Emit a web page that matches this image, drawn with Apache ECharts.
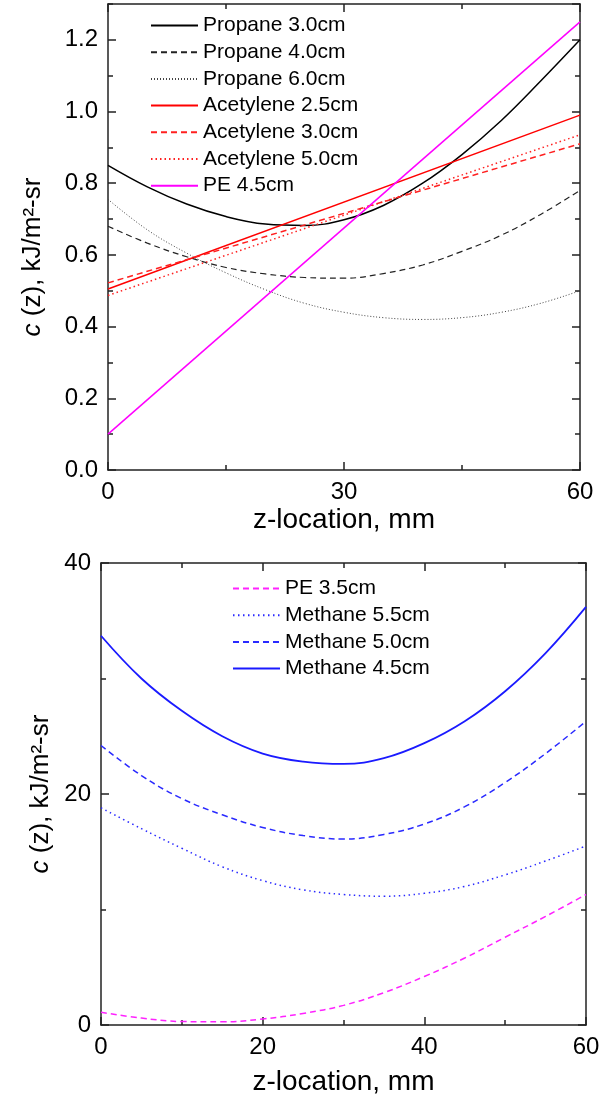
<!DOCTYPE html>
<html>
<head>
<meta charset="utf-8">
<script src="https://cdn.jsdelivr.net/npm/echarts@6/dist/echarts.min.js"></script>
<style>
html,body{margin:0;padding:0;background:#fff;}
#chart{width:603px;height:1097px;}
</style>
</head>
<body>
<div id="chart"></div>
<script>
// ---- data ----
const zCurve = [0, 5, 10, 15, 20, 25, 30, 35, 40, 45, 50, 55, 60];
const zLine = [0, 60];

// top panel
const propane30 = [0.85, 0.79, 0.742, 0.707, 0.686, 0.682, 0.698, 0.738, 0.80, 0.88, 0.975, 1.085, 1.20];
const propane40 = [0.68, 0.633, 0.595, 0.565, 0.547, 0.537, 0.535, 0.548, 0.572, 0.61, 0.655, 0.713, 0.78];
const propane60 = [0.755, 0.67, 0.605, 0.55, 0.503, 0.465, 0.44, 0.425, 0.42, 0.425, 0.44, 0.465, 0.50];
const acetylene25 = [0.505, 0.99];
const acetylene30 = [0.522, 0.91];
const acetylene50 = [0.487, 0.935];
const pe45 = [0.10, 1.25];

// bottom panel
const pe35 = [1.1, 0.6, 0.3, 0.28, 0.52, 1.0, 1.7, 2.8, 4.2, 5.8, 7.6, 9.4, 11.3];
const methane55 = [18.8, 17.0, 15.3, 13.7, 12.5, 11.7, 11.3, 11.15, 11.4, 12.0, 13.0, 14.2, 15.5];
const methane50 = [24.2, 21.6, 19.6, 18.2, 17.1, 16.4, 16.1, 16.5, 17.4, 18.9, 21.0, 23.5, 26.3];
const methane45 = [33.7, 30.0, 27.2, 25.0, 23.5, 22.8, 22.6, 23.1, 24.4, 26.3, 28.9, 32.2, 36.2];

function pairs(xs, ys) { return xs.map((x, i) => [x, ys[i]]); }

const FONT = 'Liberation Sans, Arial, sans-serif';
const AX = '#222';

function xAx(grid, pos, min, max, interval, labels, name, nameGap) {
  return {
    type: 'value', gridIndex: grid, position: pos, min: min, max: max, interval: interval,
    axisLine: { show: true, onZero: false, lineStyle: { color: AX, width: 1.5 } },
    axisTick: { show: true, inside: true, length: 8, lineStyle: { color: AX, width: 1.5 } },
    minorTick: { show: true, splitNumber: 2, length: 5, lineStyle: { color: AX, width: 1.5 } },
    splitLine: { show: false }, minorSplitLine: { show: false },
    axisLabel: { show: labels, color: '#000', fontSize: 24, fontFamily: FONT, margin: 10 },
    name: name || '', nameLocation: 'middle', nameGap: nameGap || 0,
    nameTextStyle: { color: '#000', fontSize: 28, fontFamily: FONT }
  };
}
function yAx(grid, pos, min, max, interval, opts) {
  const o = Object.assign({ labels: false, tickLen: 8, minor: true, line: true, name: '', nameGap: 0, namePad: 0 }, opts || {});
  return {
    type: 'value', gridIndex: grid, position: pos, min: min, max: max, interval: interval,
    axisLine: { show: o.line, onZero: false, lineStyle: { color: AX, width: 1.5 } },
    axisTick: { show: true, inside: true, length: o.tickLen, lineStyle: { color: AX, width: 1.5 } },
    minorTick: { show: o.minor, splitNumber: 2, length: 5, lineStyle: { color: AX, width: 1.5 } },
    splitLine: { show: false }, minorSplitLine: { show: false },
    axisLabel: { show: o.labels, color: '#000', fontSize: 24, fontFamily: FONT, margin: 10,
      formatter: o.fmt, showMaxLabel: o.showMax !== false },
    name: o.name, nameLocation: 'middle', nameRotate: 90, nameGap: o.nameGap,
    nameTextStyle: { color: '#000', fontSize: 26, fontFamily: FONT, padding: [0, o.namePad, 0, 0],
      rich: { it: { fontStyle: 'italic', fontSize: 26, fontFamily: FONT, color: '#000' } } }
  };
}

const yName = '{it|c} (z), kJ/m²-sr';

function ser(name, xi, yi, data, color, type, width, smooth) {
  return {
    name: name, type: 'line', xAxisIndex: xi, yAxisIndex: yi, data: data,
    symbol: 'none', smooth: smooth ? 0.4 : false, silent: true, animation: false,
    lineStyle: { color: color, width: width, type: type }, itemStyle: { color: color }
  };
}

const legendCommon = {
  orient: 'vertical', itemWidth: 47, itemHeight: 12, selectedMode: false, padding: 0,
  itemStyle: { opacity: 0 },
  textStyle: { color: '#000', fontSize: 21, fontFamily: FONT, lineHeight: 20 }
};

const option = {
  animation: false,
  backgroundColor: '#fff',
  grid: [
    { left: 108, top: 4, width: 472, height: 466 },
    { left: 101, top: 563, width: 485, height: 462 }
  ],
  xAxis: [
    xAx(0, 'bottom', 0, 60, 30, true, 'z-location, mm', 36),
    xAx(0, 'top', 0, 60, 30, false),
    xAx(1, 'bottom', 0, 60, 20, true, 'z-location, mm', 43),
    xAx(1, 'top', 0, 60, 20, false)
  ],
  yAxis: [
    yAx(0, 'left', 0, 1.3, 0.2, { labels: true, minor: false, name: yName, nameGap: 62,
      namePad: 40, fmt: v => v.toFixed(1), showMax: false }),
    yAx(0, 'left', 0, 1.3, 0.1, { minor: false, tickLen: 5, line: false }),
    yAx(0, 'right', 0, 1.3, 0.2, { minor: false }),
    yAx(0, 'right', 0, 1.3, 0.1, { minor: false, tickLen: 5, line: false }),
    yAx(1, 'left', 0, 40, 20, { labels: true, name: yName, nameGap: 45 }),
    yAx(1, 'right', 0, 40, 20, {})
  ],
  legend: [
    Object.assign({}, legendCommon, {
      data: ['Propane 3.0cm', 'Propane 4.0cm', 'Propane 6.0cm', 'Acetylene 2.5cm', 'Acetylene 3.0cm', 'Acetylene 5.0cm', 'PE 4.5cm'],
      left: 150, top: 15, itemGap: 5.7
    }),
    Object.assign({}, legendCommon, {
      data: ['PE 3.5cm', 'Methane 5.5cm', 'Methane 5.0cm', 'Methane 4.5cm'],
      left: 232, top: 578, itemGap: 5.7
    })
  ],
  series: [
    ser('Propane 3.0cm', 0, 0, pairs(zCurve, propane30), '#000', 'solid', 1.5, true),
    ser('Propane 4.0cm', 0, 0, pairs(zCurve, propane40), '#222', [6, 4], 1.2, true),
    ser('Propane 6.0cm', 0, 0, pairs(zCurve, propane60), '#444', [1, 2], 1, true),
    ser('Acetylene 2.5cm', 0, 0, pairs(zLine, acetylene25), '#ff0000', 'solid', 1.5, false),
    ser('Acetylene 3.0cm', 0, 0, pairs(zLine, acetylene30), '#ff2020', [6, 4], 1.5, false),
    ser('Acetylene 5.0cm', 0, 0, pairs(zLine, acetylene50), '#ff2020', [1.5, 3], 1.5, false),
    ser('PE 4.5cm', 0, 0, pairs(zLine, pe45), '#ff00ff', 'solid', 1.5, false),
    ser('PE 3.5cm', 2, 4, pairs(zCurve, pe35), '#ff22ff', [6, 4], 1.5, true),
    ser('Methane 5.5cm', 2, 4, pairs(zCurve, methane55), '#2a2aff', [1.5, 3.5], 1.5, true),
    ser('Methane 5.0cm', 2, 4, pairs(zCurve, methane50), '#2a2aff', [6, 4], 1.5, true),
    ser('Methane 4.5cm', 2, 4, pairs(zCurve, methane45), '#1a1aff', 'solid', 1.8, true)
  ]
};

const chart = echarts.init(document.getElementById('chart'), null, { renderer: 'canvas' });
chart.setOption(option);
</script>
</body>
</html>
